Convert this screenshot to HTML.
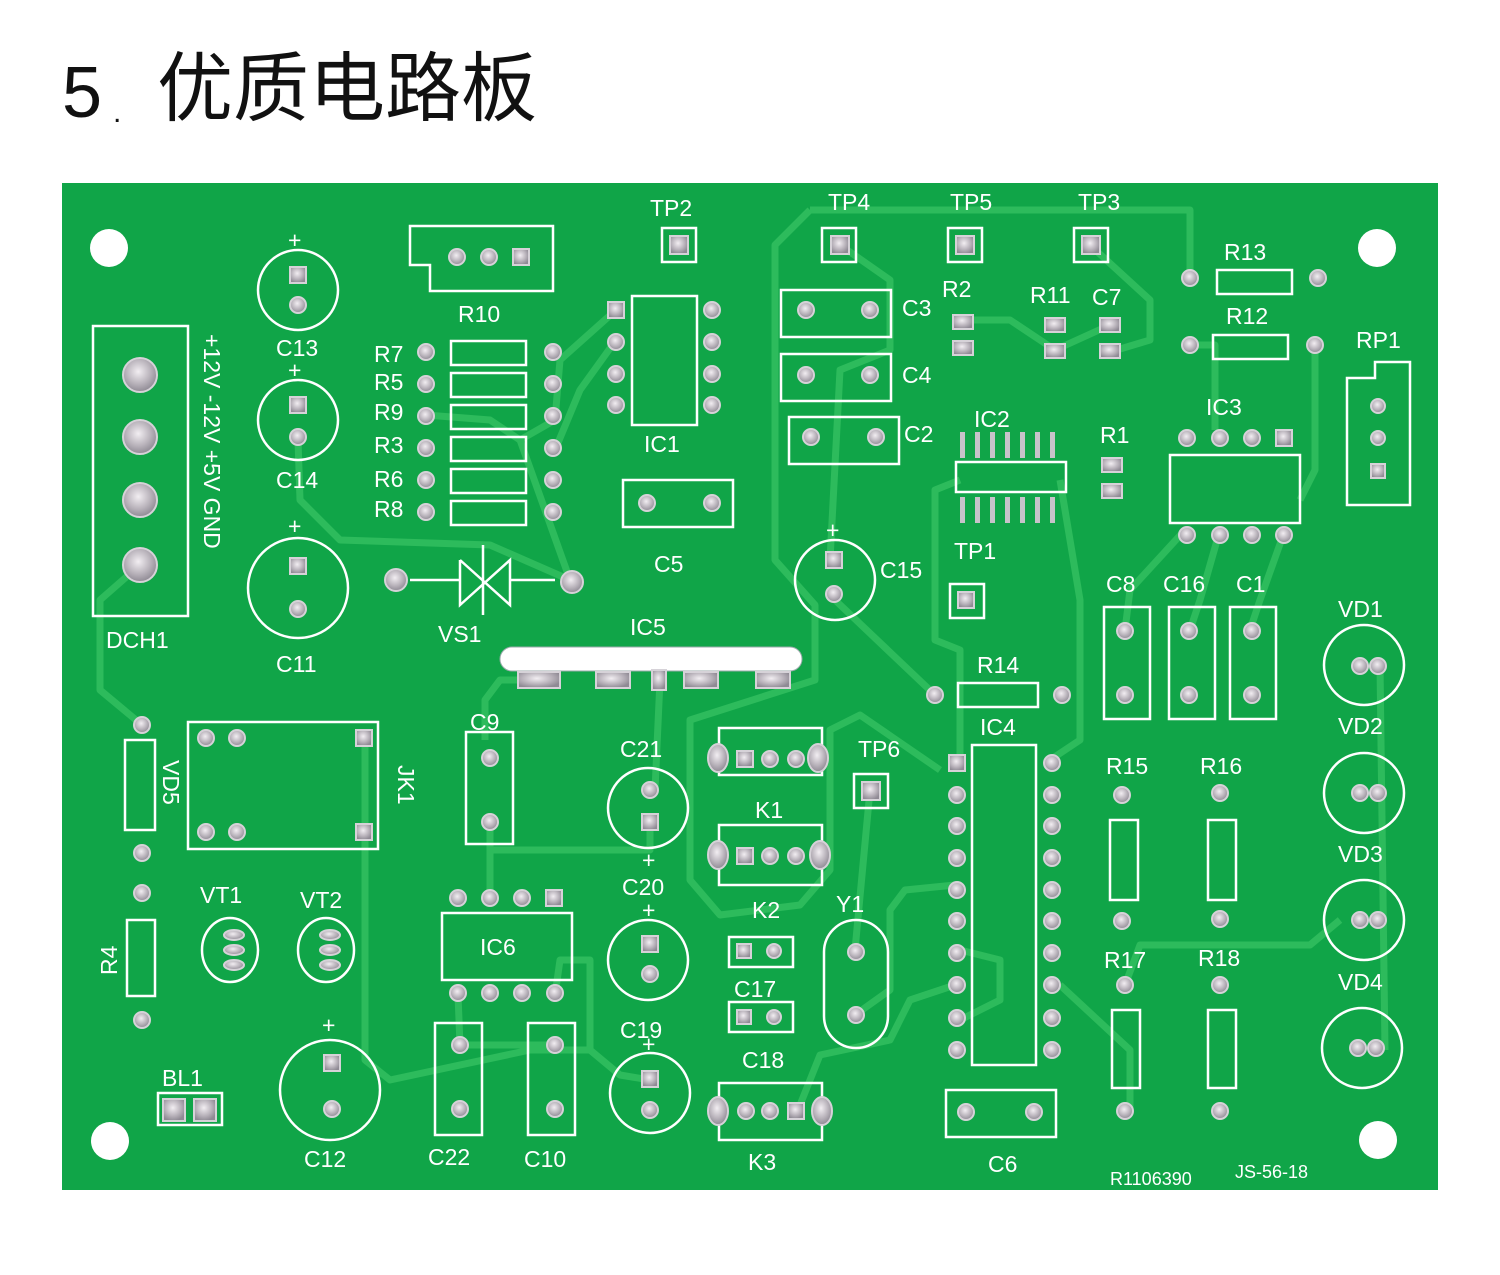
<!DOCTYPE html>
<html><head><meta charset="utf-8"><style>
body{margin:0;background:#fff;width:1500px;height:1275px;overflow:hidden}
svg{display:block}
</style></head><body>
<svg width="1500" height="1275" xmlns="http://www.w3.org/2000/svg">
<defs>
<radialGradient id="pg" cx="45%" cy="40%" r="60%"><stop offset="0" stop-color="#f2eef2"/><stop offset="0.6" stop-color="#b9b3bb"/><stop offset="1" stop-color="#8f8a94"/></radialGradient>
</defs>
<text x="62" y="117" font-family="Liberation Sans, sans-serif" font-size="72" fill="#111">5</text>
<text x="113" y="122" font-family="Liberation Sans, sans-serif" font-size="30" fill="#111">.</text>
<text x="157" y="115" font-family="Liberation Sans, Noto Sans CJK SC, sans-serif" font-size="76" fill="#111">优质电路板</text>
<rect x="62" y="183" width="1376" height="1007" fill="#10a548"/>
<g fill="#fff">
<circle cx="109" cy="248" r="19"/><circle cx="1377" cy="248" r="19"/><circle cx="110" cy="1141" r="19"/><circle cx="1378" cy="1140" r="19"/>
</g>
<g fill="none" stroke="#2dbb5c" stroke-width="7" stroke-linejoin="round">
<path d="M140 565 L100 600 L100 690 L142 725"/>
<path d="M298 440 L300 500 L340 540 L490 545 L570 580"/>
<path d="M426 415 L490 420 L520 440 L570 580"/>
<path d="M616 310 L560 360 L555 420 L520 440"/>
<path d="M616 340 L580 390 L555 450"/>
<path d="M810 210 L1190 210 L1190 278"/>
<path d="M810 210 L775 245 L775 560 L815 605 L815 680 L690 720 L690 880 L720 915 L800 905 L830 870 L830 730 L860 715 L940 770"/>
<path d="M840 245 L890 280 L890 350 L840 370 L830 560"/>
<path d="M1090 245 L1150 300 L1150 340 L1110 352"/>
<path d="M965 320 L1010 320 L1055 350 L1110 325"/>
<path d="M835 600 L935 695"/>
<path d="M960 480 L935 490 L935 640 L960 650 L960 760"/>
<path d="M1060 480 L1080 600 L1080 740 L1050 760"/>
<path d="M1190 345 L1215 345 L1215 430"/>
<path d="M1315 345 L1315 470 L1300 500"/>
<path d="M1285 530 L1260 600 L1250 630"/>
<path d="M1220 530 L1200 600 L1190 630"/>
<path d="M1185 530 L1130 590 L1125 630"/>
<path d="M1380 665 L1385 1050"/>
<path d="M1340 920 L1310 945 L1140 945 L1125 985"/>
<path d="M1060 985 L1130 1050 L1130 1110"/>
<path d="M960 950 L1000 960 L1000 1000 L960 1020"/>
<path d="M955 885 L905 890 L890 910 L890 990 L855 1015"/>
<path d="M955 985 L910 1000 L890 1040 L820 1055 L800 1105"/>
<path d="M365 740 L365 1060 L390 1080 L530 1050 L590 1050 L620 1075 L650 1080"/>
<path d="M540 680 L500 680 L485 700 L485 740"/>
<path d="M490 825 L490 850 L650 850 L650 820"/>
<path d="M490 850 L490 895"/>
<path d="M660 680 L655 790"/>
<path d="M458 995 L460 1045 L548 1045"/>
<path d="M555 995 L560 960 L590 960 L590 1050"/>
<path d="M870 790 L855 950"/>
</g>
<rect x="500" y="647" width="302" height="24" rx="12" fill="#fff" stroke="#9aa" stroke-width="1"/>
<g fill="none" stroke="#fff" stroke-width="2.5">
<rect x="93" y="326" width="95" height="290"/>
<path d="M410 226 H553 V291 H430 V265 H410 Z"/>
<rect x="451" y="341" width="75" height="24"/><rect x="451" y="373" width="75" height="24"/><rect x="451" y="405" width="75" height="24"/><rect x="451" y="437" width="75" height="24"/><rect x="451" y="469" width="75" height="24"/><rect x="451" y="501" width="75" height="24"/>
<path d="M632 296 H697 V425 H632 Z"/>
<rect x="623" y="480" width="110" height="47"/>
<circle cx="298" cy="290" r="40"/><circle cx="298" cy="420" r="40"/><circle cx="298" cy="588" r="50"/>
<path d="M410 580 H460 M510 580 H555 M460 560 V605 L510 560 V605 L460 560 M483 545 V615"/>
<rect x="781" y="290" width="110" height="47"/><rect x="781" y="354" width="110" height="47"/><rect x="789" y="417" width="110" height="47"/>
<circle cx="835" cy="580" r="40"/>
<rect x="1217" y="270" width="75" height="24"/><rect x="1213" y="335" width="75" height="24"/>
<path d="M1347 378 H1375 V362 H1410 V505 H1347 Z"/>
<rect x="956" y="462" width="110" height="30"/>
<rect x="1170" y="455" width="130" height="68"/>
<rect x="1104" y="607" width="46" height="112"/><rect x="1169" y="607" width="46" height="112"/><rect x="1230" y="607" width="46" height="112"/>
<circle cx="1364" cy="665" r="40"/><circle cx="1364" cy="793" r="40"/><circle cx="1364" cy="920" r="40"/><circle cx="1362" cy="1048" r="40"/>
<rect x="958" y="683" width="80" height="24"/>
<rect x="972" y="745" width="64" height="320"/>
<rect x="1110" y="820" width="28" height="80"/><rect x="1208" y="820" width="28" height="80"/>
<rect x="1112" y="1010" width="28" height="78"/><rect x="1208" y="1010" width="28" height="78"/>
<rect x="946" y="1090" width="110" height="47"/>
<rect x="188" y="722" width="190" height="127"/>
<rect x="125" y="740" width="30" height="90"/>
<rect x="127" y="920" width="28" height="76"/>
<ellipse cx="230" cy="950" rx="28" ry="32"/><ellipse cx="326" cy="950" rx="28" ry="32"/>
<rect x="466" y="732" width="47" height="112"/>
<circle cx="648" cy="808" r="40"/><circle cx="648" cy="960" r="40"/><circle cx="650" cy="1093" r="40"/><circle cx="330" cy="1090" r="50"/>
<path d="M442 913 H572 V980 H442 Z"/>
<rect x="435" y="1023" width="47" height="112"/><rect x="528" y="1023" width="47" height="112"/>
<rect x="719" y="728" width="103" height="47"/><rect x="719" y="825" width="103" height="60"/>
<rect x="729" y="937" width="64" height="30"/><rect x="729" y="1002" width="64" height="30"/>
<rect x="719" y="1083" width="103" height="57"/>
<rect x="824" y="920" width="64" height="128" rx="32"/>
<rect x="158" y="1093" width="64" height="32"/>
<rect x="662" y="228" width="34" height="34"/><rect x="822" y="228" width="34" height="34"/><rect x="948" y="228" width="34" height="34"/><rect x="1074" y="228" width="34" height="34"/><rect x="950" y="584" width="34" height="34"/><rect x="854" y="774" width="34" height="34"/>
</g>
<g fill="url(#pg)" stroke="#d6d2d8" stroke-width="2">
<circle cx="140" cy="375" r="17"/><circle cx="140" cy="437" r="17"/><circle cx="140" cy="500" r="17"/><circle cx="140" cy="565" r="17"/>
<circle cx="457" cy="257" r="8"/><circle cx="489" cy="257" r="8"/><rect x="513" y="249" width="16" height="16"/>
<rect x="290" y="267" width="16" height="16"/><circle cx="298" cy="305" r="8"/>
<rect x="290" y="397" width="16" height="16"/><circle cx="298" cy="437" r="8"/>
<rect x="290" y="558" width="16" height="16"/><circle cx="298" cy="609" r="8"/>
<circle cx="426" cy="352" r="8"/><circle cx="426" cy="384" r="8"/><circle cx="426" cy="416" r="8"/><circle cx="426" cy="448" r="8"/><circle cx="426" cy="480" r="8"/><circle cx="426" cy="512" r="8"/>
<circle cx="553" cy="352" r="8"/><circle cx="553" cy="384" r="8"/><circle cx="553" cy="416" r="8"/><circle cx="553" cy="448" r="8"/><circle cx="553" cy="480" r="8"/><circle cx="553" cy="512" r="8"/>
<rect x="608" y="302" width="16" height="16"/><circle cx="616" cy="342" r="8"/><circle cx="616" cy="374" r="8"/><circle cx="616" cy="405" r="8"/>
<circle cx="712" cy="310" r="8"/><circle cx="712" cy="342" r="8"/><circle cx="712" cy="374" r="8"/><circle cx="712" cy="405" r="8"/>
<rect x="670" y="236" width="18" height="18"/><circle cx="647" cy="503" r="8"/><circle cx="712" cy="503" r="8"/>
<circle cx="396" cy="580" r="11"/><circle cx="572" cy="582" r="11"/>
<rect x="831" y="236" width="18" height="18"/><rect x="956" y="236" width="18" height="18"/><rect x="1082" y="236" width="18" height="18"/>
<circle cx="806" cy="310" r="8"/><circle cx="870" cy="310" r="8"/><circle cx="806" cy="375" r="8"/><circle cx="870" cy="375" r="8"/><circle cx="811" cy="437" r="8"/><circle cx="876" cy="437" r="8"/>
<rect x="953" y="315" width="20" height="14"/><rect x="953" y="341" width="20" height="14"/><rect x="1045" y="318" width="20" height="14"/><rect x="1045" y="344" width="20" height="14"/><rect x="1100" y="318" width="20" height="14"/><rect x="1100" y="344" width="20" height="14"/>
<rect x="1102" y="458" width="20" height="14"/><rect x="1102" y="484" width="20" height="14"/>
<circle cx="1190" cy="278" r="8"/><circle cx="1318" cy="278" r="8"/><circle cx="1190" cy="345" r="8"/><circle cx="1315" cy="345" r="8"/>
<circle cx="1187" cy="438" r="8"/><circle cx="1220" cy="438" r="8"/><circle cx="1252" cy="438" r="8"/><rect x="1276" y="430" width="16" height="16"/>
<circle cx="1187" cy="535" r="8"/><circle cx="1220" cy="535" r="8"/><circle cx="1252" cy="535" r="8"/><circle cx="1284" cy="535" r="8"/>
<circle cx="1378" cy="406" r="7"/><circle cx="1378" cy="438" r="7"/><rect x="1371" y="464" width="14" height="14"/>
<rect x="826" y="552" width="16" height="16"/><circle cx="834" cy="594" r="8"/><rect x="958" y="592" width="16" height="16"/>
<circle cx="1125" cy="631" r="8"/><circle cx="1125" cy="695" r="8"/><circle cx="1189" cy="631" r="8"/><circle cx="1189" cy="695" r="8"/><circle cx="1252" cy="631" r="8"/><circle cx="1252" cy="695" r="8"/>
<circle cx="1360" cy="666" r="8"/><circle cx="1378" cy="666" r="8"/><circle cx="1360" cy="793" r="8"/><circle cx="1378" cy="793" r="8"/><circle cx="1360" cy="920" r="8"/><circle cx="1378" cy="920" r="8"/><circle cx="1358" cy="1048" r="8"/><circle cx="1376" cy="1048" r="8"/>
<circle cx="935" cy="695" r="8"/><circle cx="1062" cy="695" r="8"/>
<rect x="518" y="672" width="42" height="16"/><rect x="596" y="672" width="34" height="16"/><rect x="652" y="670" width="14" height="20"/><rect x="684" y="672" width="34" height="16"/><rect x="756" y="672" width="34" height="16"/>
<rect x="949" y="755" width="16" height="16"/>
<circle cx="957" cy="795" r="8"/><circle cx="957" cy="826" r="8"/><circle cx="957" cy="858" r="8"/><circle cx="957" cy="890" r="8"/><circle cx="957" cy="921" r="8"/><circle cx="957" cy="953" r="8"/><circle cx="957" cy="985" r="8"/><circle cx="957" cy="1018" r="8"/><circle cx="957" cy="1050" r="8"/>
<circle cx="1052" cy="763" r="8"/><circle cx="1052" cy="795" r="8"/><circle cx="1052" cy="826" r="8"/><circle cx="1052" cy="858" r="8"/><circle cx="1052" cy="890" r="8"/><circle cx="1052" cy="921" r="8"/><circle cx="1052" cy="953" r="8"/><circle cx="1052" cy="985" r="8"/><circle cx="1052" cy="1018" r="8"/><circle cx="1052" cy="1050" r="8"/>
<circle cx="1122" cy="795" r="8"/><circle cx="1122" cy="921" r="8"/><circle cx="1220" cy="793" r="8"/><circle cx="1220" cy="919" r="8"/>
<circle cx="1125" cy="985" r="8"/><circle cx="1125" cy="1111" r="8"/><circle cx="1220" cy="985" r="8"/><circle cx="1220" cy="1111" r="8"/>
<circle cx="966" cy="1112" r="8"/><circle cx="1034" cy="1112" r="8"/>
<circle cx="142" cy="725" r="8"/><circle cx="142" cy="853" r="8"/><circle cx="142" cy="893" r="8"/><circle cx="142" cy="1020" r="8"/>
<circle cx="206" cy="738" r="8"/><circle cx="237" cy="738" r="8"/><rect x="356" y="730" width="16" height="16"/><circle cx="206" cy="832" r="8"/><circle cx="237" cy="832" r="8"/><rect x="356" y="824" width="16" height="16"/>
<ellipse cx="234" cy="935" rx="10" ry="5"/><ellipse cx="234" cy="950" rx="10" ry="5"/><ellipse cx="234" cy="965" rx="10" ry="5"/>
<ellipse cx="330" cy="935" rx="10" ry="5"/><ellipse cx="330" cy="950" rx="10" ry="5"/><ellipse cx="330" cy="965" rx="10" ry="5"/>
<circle cx="490" cy="758" r="8"/><circle cx="490" cy="822" r="8"/>
<circle cx="650" cy="790" r="8"/><rect x="642" y="814" width="16" height="16"/>
<rect x="642" y="936" width="16" height="16"/><circle cx="650" cy="974" r="8"/>
<rect x="642" y="1071" width="16" height="16"/><circle cx="650" cy="1110" r="8"/>
<rect x="324" y="1055" width="16" height="16"/><circle cx="332" cy="1109" r="8"/>
<circle cx="458" cy="898" r="8"/><circle cx="490" cy="898" r="8"/><circle cx="522" cy="898" r="8"/><rect x="546" y="890" width="16" height="16"/>
<circle cx="458" cy="993" r="8"/><circle cx="490" cy="993" r="8"/><circle cx="522" cy="993" r="8"/><circle cx="555" cy="993" r="8"/>
<circle cx="460" cy="1045" r="8"/><circle cx="460" cy="1109" r="8"/><circle cx="555" cy="1045" r="8"/><circle cx="555" cy="1109" r="8"/>
<ellipse cx="718" cy="758" rx="10" ry="14"/><rect x="737" y="751" width="16" height="16"/><circle cx="770" cy="759" r="8"/><circle cx="796" cy="759" r="8"/><ellipse cx="818" cy="758" rx="10" ry="14"/>
<ellipse cx="718" cy="855" rx="10" ry="14"/><rect x="737" y="848" width="16" height="16"/><circle cx="770" cy="856" r="8"/><circle cx="796" cy="856" r="8"/><ellipse cx="820" cy="855" rx="10" ry="14"/>
<ellipse cx="718" cy="1111" rx="10" ry="14"/><circle cx="746" cy="1111" r="8"/><circle cx="770" cy="1111" r="8"/><rect x="788" y="1103" width="16" height="16"/><ellipse cx="822" cy="1111" rx="10" ry="14"/>
<rect x="737" y="944" width="14" height="14"/><circle cx="774" cy="951" r="7"/><rect x="737" y="1010" width="14" height="14"/><circle cx="774" cy="1017" r="7"/>
<circle cx="856" cy="952" r="8"/><circle cx="856" cy="1015" r="8"/>
<rect x="862" y="782" width="18" height="18"/>
<rect x="163" y="1099" width="22" height="22"/><rect x="194" y="1099" width="22" height="22"/>
</g>
<g fill="#c7c3c9">
<rect x="960" y="432" width="5" height="26"/><rect x="975" y="432" width="5" height="26"/><rect x="990" y="432" width="5" height="26"/><rect x="1005" y="432" width="5" height="26"/><rect x="1020" y="432" width="5" height="26"/><rect x="1035" y="432" width="5" height="26"/><rect x="1050" y="432" width="5" height="26"/>
<rect x="960" y="497" width="5" height="26"/><rect x="975" y="497" width="5" height="26"/><rect x="990" y="497" width="5" height="26"/><rect x="1005" y="497" width="5" height="26"/><rect x="1020" y="497" width="5" height="26"/><rect x="1035" y="497" width="5" height="26"/><rect x="1050" y="497" width="5" height="26"/>
</g>
<g fill="#fff" font-family="Liberation Sans, sans-serif" font-size="23">
<text x="650" y="216">TP2</text><text x="828" y="210">TP4</text><text x="950" y="210">TP5</text><text x="1078" y="210">TP3</text>
<text x="458" y="322">R10</text><text x="276" y="356">C13</text><text x="276" y="488">C14</text><text x="276" y="672">C11</text>
<text x="374" y="362">R7</text><text x="374" y="390">R5</text><text x="374" y="420">R9</text><text x="374" y="453">R3</text><text x="374" y="487">R6</text><text x="374" y="517">R8</text>
<text x="644" y="452">IC1</text><text x="654" y="572">C5</text><text x="438" y="642">VS1</text><text x="630" y="635">IC5</text>
<text x="106" y="648">DCH1</text>
<text x="902" y="316">C3</text><text x="942" y="297">R2</text><text x="1030" y="303">R11</text><text x="1092" y="305">C7</text>
<text x="902" y="383">C4</text><text x="904" y="442">C2</text><text x="974" y="427">IC2</text><text x="1100" y="443">R1</text>
<text x="1224" y="260">R13</text><text x="1226" y="324">R12</text><text x="1356" y="348">RP1</text><text x="1206" y="415">IC3</text>
<text x="880" y="578">C15</text><text x="954" y="559">TP1</text>
<text x="1106" y="592">C8</text><text x="1163" y="592">C16</text><text x="1236" y="592">C1</text>
<text x="1338" y="617">VD1</text><text x="1338" y="734">VD2</text><text x="1338" y="862">VD3</text><text x="1338" y="990">VD4</text>
<text x="977" y="673">R14</text><text x="980" y="735">IC4</text>
<text x="1106" y="774">R15</text><text x="1200" y="774">R16</text><text x="1104" y="968">R17</text><text x="1198" y="966">R18</text>
<text x="988" y="1172">C6</text>
<text x="470" y="730">C9</text><text x="620" y="757">C21</text><text x="858" y="757">TP6</text><text x="755" y="818">K1</text>
<text x="622" y="895">C20</text><text x="752" y="918">K2</text><text x="836" y="912">Y1</text>
<text x="200" y="903">VT1</text><text x="300" y="908">VT2</text>
<text x="480" y="955">IC6</text><text x="734" y="997">C17</text><text x="620" y="1038">C19</text><text x="742" y="1068">C18</text>
<text x="162" y="1086">BL1</text><text x="304" y="1167">C12</text><text x="428" y="1165">C22</text><text x="524" y="1167">C10</text><text x="748" y="1170">K3</text>
<text x="288" y="248">+</text><text x="288" y="378">+</text><text x="288" y="534">+</text><text x="826" y="538">+</text><text x="642" y="868">+</text><text x="642" y="918">+</text><text x="642" y="1052">+</text><text x="322" y="1033">+</text>
<text font-size="18" x="1110" y="1185">R1106390</text><text font-size="18" x="1235" y="1178">JS-56-18</text>
<text transform="translate(204,334) rotate(90)">+12V -12V +5V GND</text>
<text transform="translate(163,760) rotate(90)">VD5</text>
<text transform="translate(398,765) rotate(90)">JK1</text>
<text transform="translate(117,975) rotate(-90)">R4</text>
</g>
</svg>
</body></html>
